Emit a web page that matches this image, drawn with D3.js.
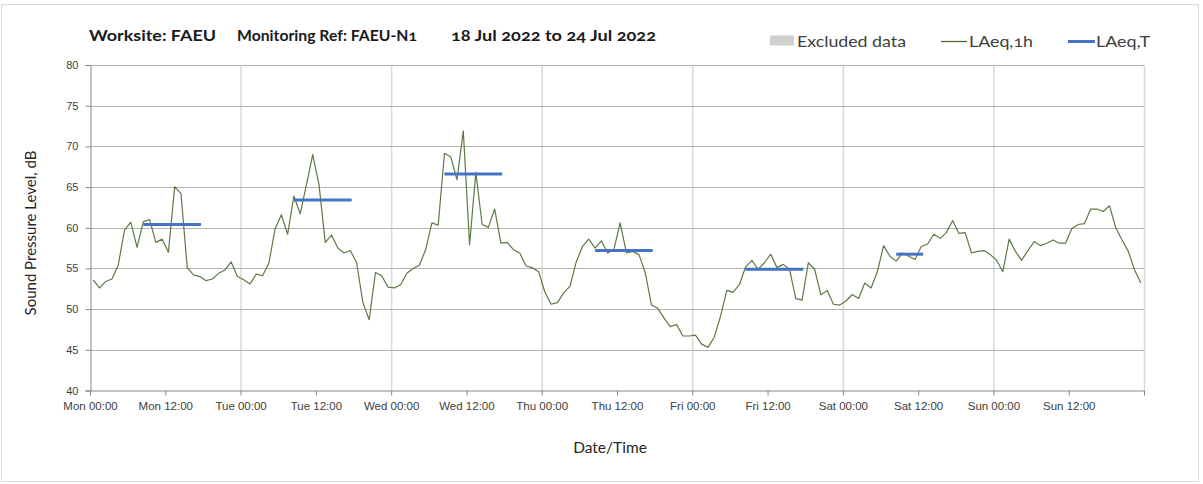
<!DOCTYPE html>
<html><head><meta charset="utf-8">
<script src="https://cdn.jsdelivr.net/npm/d3@7"></script>
<style>
html,body{margin:0;padding:0;background:#fff;}
svg{display:block;font-family:Lato,"Open Sans",sans-serif;}
</style></head>
<body><svg id="c" width="1203" height="484"></svg>
<script>
const dayNames = ["Mon","Tue","Wed","Thu","Fri","Sat","Sun"];
const yTicks = [40,45,50,55,60,65,70,75,80];
const laeq1h = [
53.6,52.6,53.4,53.7,55.4,59.7,60.7,57.6,60.75,61.0,58.2,58.6,57.0,65.05,64.2,55.1,54.2,54.0,53.5,53.7,54.4,54.8,55.8,54.0,
53.6,53.1,54.3,54.1,55.6,59.85,61.6,59.2,63.9,61.7,65.3,69.0,65.3,58.2,59.1,57.5,56.9,57.2,55.7,50.8,48.7,54.5,54.1,52.7,
52.6,53.0,54.4,55.0,55.4,57.3,60.6,60.3,69.15,68.7,65.9,71.9,57.9,66.8,60.4,60.05,62.3,58.1,58.2,57.3,56.9,55.3,55.1,54.6,
52.1,50.6,50.8,52.0,52.8,55.8,57.7,58.6,57.5,58.4,56.9,57.3,60.6,56.9,57.1,56.7,54.5,50.5,50.1,48.9,47.85,48.1,46.7,46.7,
46.8,45.7,45.3,46.55,49.1,52.3,52.05,53.0,55.2,56.0,54.9,55.7,56.75,55.1,55.5,54.9,51.3,51.1,55.7,54.9,51.75,52.3,50.6,50.5,
51.0,51.8,51.3,53.2,52.6,54.6,57.8,56.5,55.9,56.9,56.5,56.1,57.7,58.0,59.2,58.7,59.4,60.9,59.3,59.4,56.9,57.1,57.2,56.7,
56.0,54.6,58.6,57.1,56.0,57.2,58.3,57.8,58.1,58.5,58.1,58.1,59.9,60.4,60.5,62.3,62.3,62.0,62.7,60.0,58.5,57.1,54.8,53.2
];
const laeqT = [60.4, 63.4, 66.6, 57.2, 54.9, 56.75];
const laeqTStart = [8.5, 32.5, 56.5, 80.5, 104.5, 128.5];
const laeqTEnd = [17.7, 41.7, 65.7, 89.7, 113.7, 132.8];

const svg = d3.select("#c");
const L = 90, R = 1144, T = 65, B = 390.5;
const x = d3.scaleLinear().domain([0,168]).range([L,R]);
const y = d3.scaleLinear().domain([40,80]).range([B,T]);

// outer border
svg.append("rect").attr("x",1.5).attr("y",4.5).attr("width",1197).attr("height",477)
  .attr("fill","#fff").attr("stroke","#d9d9d9");

// vertical gridlines (days)
svg.append("g").selectAll("line").data(d3.range(1,8)).join("line")
  .attr("x1",d=>x(d*24)+0.5).attr("x2",d=>x(d*24)+0.5).attr("y1",T).attr("y2",B)
  .attr("stroke","#d9d9d9").attr("stroke-width",1.5);

// horizontal gridlines
svg.append("g").selectAll("line").data(yTicks.filter(v=>v>40)).join("line")
  .attr("x1",L).attr("x2",R).attr("y1",d=>Math.round(y(d))+0.5).attr("y2",d=>Math.round(y(d))+0.5)
  .attr("stroke","#b3b3b3");

// y axis
const yAxis = d3.axisLeft(y).tickValues(yTicks).tickSize(5).tickPadding(7).tickFormat(d3.format("d"));
const gy = svg.append("g").attr("transform",`translate(${L+0.5},0)`).call(yAxis);
gy.select(".domain").attr("stroke","#868686");
gy.selectAll(".tick line").attr("stroke","#868686");
gy.selectAll("text").attr("font-size",11).attr("fill","#404040").style("font-variant-numeric","oldstyle-nums");

// x axis
const xTickVals = d3.range(0,169,12);
const xAxis = d3.axisBottom(x).tickValues(xTickVals).tickSize(5).tickPadding(6)
  .tickFormat(d => d>=168 ? "" : dayNames[Math.floor(d/24)] + " " + (d%24===0?"00:00":"12:00"));
const gx = svg.append("g").attr("transform",`translate(0,${B})`).call(xAxis);
gx.select(".domain").attr("stroke","#868686").attr("d",`M${L},0.5H${R}`);
gx.selectAll(".tick line").attr("stroke","#868686");
gx.selectAll("text").attr("font-size",11.5).attr("fill","#404040").style("font-variant-numeric","oldstyle-nums");

// LAeq,1h line
const line = d3.line().x((d,i)=>x(i+0.5)).y(d=>y(d));
svg.append("path").datum(laeq1h).attr("d",line).attr("fill","none")
  .attr("stroke","#5d7a45").attr("stroke-width",1.2).attr("stroke-linejoin","round");

// LAeq,T segments
svg.append("g").selectAll("line").data(laeqT).join("line")
  .attr("x1",(d,i)=>x(laeqTStart[i])).attr("x2",(d,i)=>x(laeqTEnd[i]))
  .attr("y1",d=>y(d)).attr("y2",d=>y(d))
  .attr("stroke","#4472c4").attr("stroke-width",3);

// title
const titleParts = [
  {t:"Worksite: FAEU", x:89, w:127},
  {t:"Monitoring Ref: FAEU-N1", x:237, w:180},
  {t:"18 Jul 2022 to 24 Jul 2022", x:451, w:205}
];
svg.append("g").selectAll("text").data(titleParts).join("text")
  .attr("x",d=>d.x).attr("y",41).attr("font-size",14.5).attr("font-weight","bold")
  .attr("fill","#1a1a1a").attr("textLength",d=>d.w).attr("lengthAdjust","spacingAndGlyphs")
  .style("font-variant-numeric","oldstyle-nums").text(d=>d.t);

// legend
const lg = svg.append("g");
lg.append("rect").attr("x",770).attr("y",35.5).attr("width",24).attr("height",10).attr("fill","#d0d0d0");
lg.append("text").attr("x",797).attr("y",47).attr("font-size",16).attr("fill","#404040")
  .attr("textLength",109).attr("lengthAdjust","spacingAndGlyphs").text("Excluded data");
lg.append("line").attr("x1",941).attr("x2",967).attr("y1",41.5).attr("y2",41.5).attr("stroke","#4f6228").attr("stroke-width",1.2);
lg.append("text").attr("x",969).attr("y",47).attr("font-size",16).attr("fill","#404040")
  .attr("textLength",64).attr("lengthAdjust","spacingAndGlyphs").style("font-variant-numeric","oldstyle-nums").text("LAeq,1h");
lg.append("line").attr("x1",1068).attr("x2",1095).attr("y1",41.5).attr("y2",41.5).attr("stroke","#4472c4").attr("stroke-width",3);
lg.append("text").attr("x",1096).attr("y",47).attr("font-size",16).attr("fill","#404040")
  .attr("textLength",54).attr("lengthAdjust","spacingAndGlyphs").text("LAeq,T");

// axis titles
svg.append("text").attr("transform","translate(36,233) rotate(-90)").attr("text-anchor","middle")
  .attr("font-size",15).attr("fill","#262626").text("Sound Pressure Level, dB");
svg.append("text").attr("x",610).attr("y",453).attr("text-anchor","middle")
  .attr("font-size",15.5).attr("fill","#262626").text("Date/Time");
</script></body></html>
